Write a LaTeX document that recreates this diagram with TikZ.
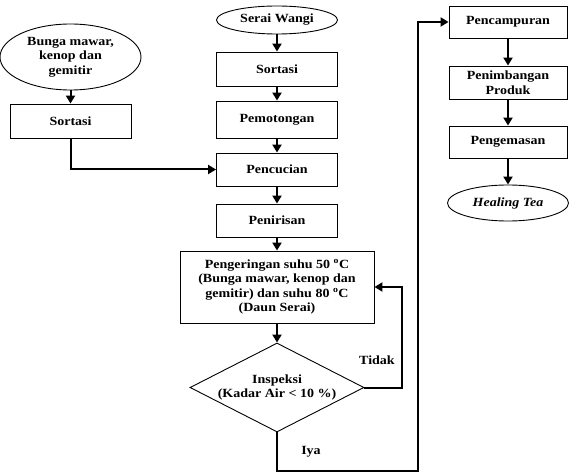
\documentclass[tikz,border=0pt]{standalone}
\usepackage{fontspec}
\setmainfont{Liberation Serif}[FakeStretch=1.12]
\usetikzlibrary{positioning, arrows.meta, shapes.geometric}

\begin{document}
\begin{tikzpicture}[
  x=1pt, y=-1pt,
  font=\fontsize{12.5}{14.6}\selectfont\bfseries,
  proses/.style={draw, line width=0.9pt, align=center, inner sep=0pt},
  bahan/.style={draw, ellipse, line width=0.9pt, align=center, inner sep=0pt},
  cek/.style={draw, diamond, aspect=1.955, line width=0.9pt, align=center, inner sep=0pt},
  alur/.style={line width=2pt, -{Triangle[length=8pt, width=9pt]}},
]
  \useasboundingbox (0,0) rectangle (570,473);
  % kolom kiri
  \node[bahan, minimum width=141pt, minimum height=66pt] (bunga) at (70.5,57)
    {Bunga mawar,\\kenop dan\\gemitir};
  \node[proses, minimum width=121pt, minimum height=34pt] (sortkiri) at (70.5,121) {Sortasi};
  % kolom tengah
  \node[bahan, minimum width=121pt, minimum height=28pt] (serai) at (277,20) {Serai Wangi};
  \node[proses, minimum width=121pt, minimum height=34pt] (sorttengah) at (277,69) {Sortasi};
  \node[proses, minimum width=121pt, minimum height=37pt] (potong) at (277,119.5) {Pemotongan};
  \node[proses, minimum width=121pt, minimum height=33pt] (cuci) at (277,169.5) {Pencucian};
  \node[proses, minimum width=121pt, minimum height=33pt] (tiris) at (277,220.5) {Penirisan};
  \node[proses, minimum width=194pt, minimum height=72pt] (kering) at (277,287)
    {Pengeringan suhu 50 \textsuperscript{o}C\\(Bunga mawar, kenop dan\\gemitir) dan suhu 80 \textsuperscript{o}C\\(Daun Serai)};
  \node[cek, minimum width=174pt, minimum height=89pt] (insp) at (277,387.5)
    {Inspeksi\\(Kadar Air < 10 \%)};
  % kolom kanan
  \node[proses, minimum width=118pt, minimum height=32pt] (campur) at (508,22) {Pencampuran};
  \node[proses, minimum width=118pt, minimum height=33pt] (timbang) at (508,82.5) {Penimbangan\\Produk};
  \node[proses, minimum width=118pt, minimum height=32pt] (kemas) at (508,142) {Pengemasan};
  \node[bahan, minimum width=121pt, minimum height=36pt] (healing) at (508,203) {\itshape Healing Tea};
  % label
  \node (tidak) at (377,360) {Tidak};
  \node (iya) at (311,452) {Iya};
  \coordinate (balik) at (402,387.5);
  \coordinate (bawah) at (417.5,471);

  \draw[alur] (bunga) -- (sortkiri);
  \draw[alur] (sortkiri.south) |- (cuci.west);
  \draw[alur] (serai) -- (sorttengah);
  \draw[alur] (sorttengah) -- (potong);
  \draw[alur] (potong) -- (cuci);
  \draw[alur] (cuci) -- (tiris);
  \draw[alur] (tiris) -- (kering);
  \draw[alur] (kering) -- (insp);
  \draw[alur] (insp.east) -- (balik) |- (kering.east);
  \draw[alur] (insp.south) |- (bawah) |- (campur.west);
  \draw[alur] (campur) -- (timbang);
  \draw[alur] (timbang) -- (kemas);
  \draw[alur] (kemas) -- (healing);
\end{tikzpicture}
\end{document}
